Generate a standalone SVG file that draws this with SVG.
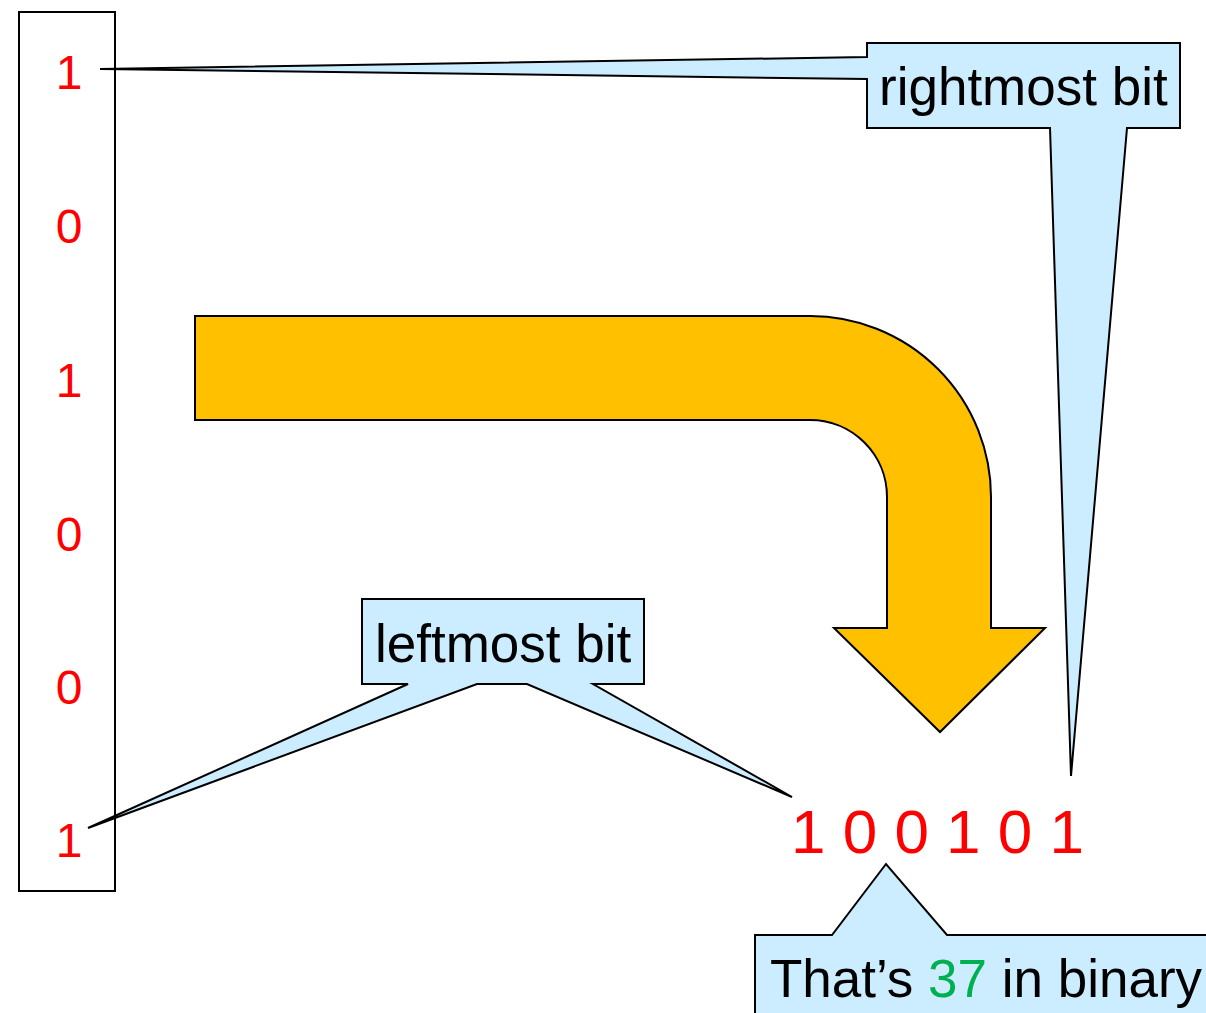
<svg xmlns="http://www.w3.org/2000/svg" width="1206" height="1013" viewBox="0 0 1206 1013">
  <style>
    .callout { fill: #CCECFF; stroke: #000; stroke-width: 2; stroke-linejoin: miter; }
    .lbl { font-family: "Liberation Sans", Arial, sans-serif; font-size: 53px; fill: #000; }
    .bit { font-family: "Liberation Sans", Arial, sans-serif; font-size: 48px; fill: #FF0000; text-anchor: middle; }
    .bin { font-family: "Liberation Sans", Arial, sans-serif; font-size: 62px; fill: #FF0000; }
  </style>
  <rect width="1206" height="1013" fill="#fff"/>
  <g id="bit-column">
    <rect x="19" y="12" width="96" height="879" fill="none" stroke="#000" stroke-width="2"/>
    <text class="bit" x="69" y="89">1</text>
    <text class="bit" x="69" y="243">0</text>
    <text class="bit" x="69" y="397">1</text>
    <text class="bit" x="69" y="551">0</text>
    <text class="bit" x="69" y="704">0</text>
    <text class="bit" x="69" y="857">1</text>
  </g>
  <g id="connectors">
    <path id="bent-arrow" d="M195,316 H810 A181,181 0 0 1 991,497 V628 H1045 L940,732 L834,628 H887 V497 A77,77 0 0 0 810,420 H195 Z" fill="#FFC000" stroke="#000" stroke-width="2" stroke-linejoin="miter"/>
  </g>
  <g id="binary-number">
    <text class="bin" x="791" y="853">1 0 0 1 0 1</text>
  </g>
  <g id="rightmost-callout">
    <path class="callout" d="M867,43 H1180 V128 H1127 L1071,776 L1050,128 H867 V79 L100,69 L867,57 Z"/>
    <text class="lbl" x="879" y="105">rightmost bit</text>
  </g>
  <g id="leftmost-callout">
    <path class="callout" d="M362,599 H644 V684 H593 L792,797 L527,684 H477 L88,828 L408,684 H362 Z"/>
    <text class="lbl" x="375" y="662">leftmost bit</text>
  </g>
  <g id="binary-callout">
    <path class="callout" d="M755,935 H832 L886,864 L947,935 H1220 V1030 H755 Z"/>
    <text class="lbl" x="770" y="997">That’s <tspan fill="#00B050">37</tspan> in binary</text>
  </g>
</svg>
